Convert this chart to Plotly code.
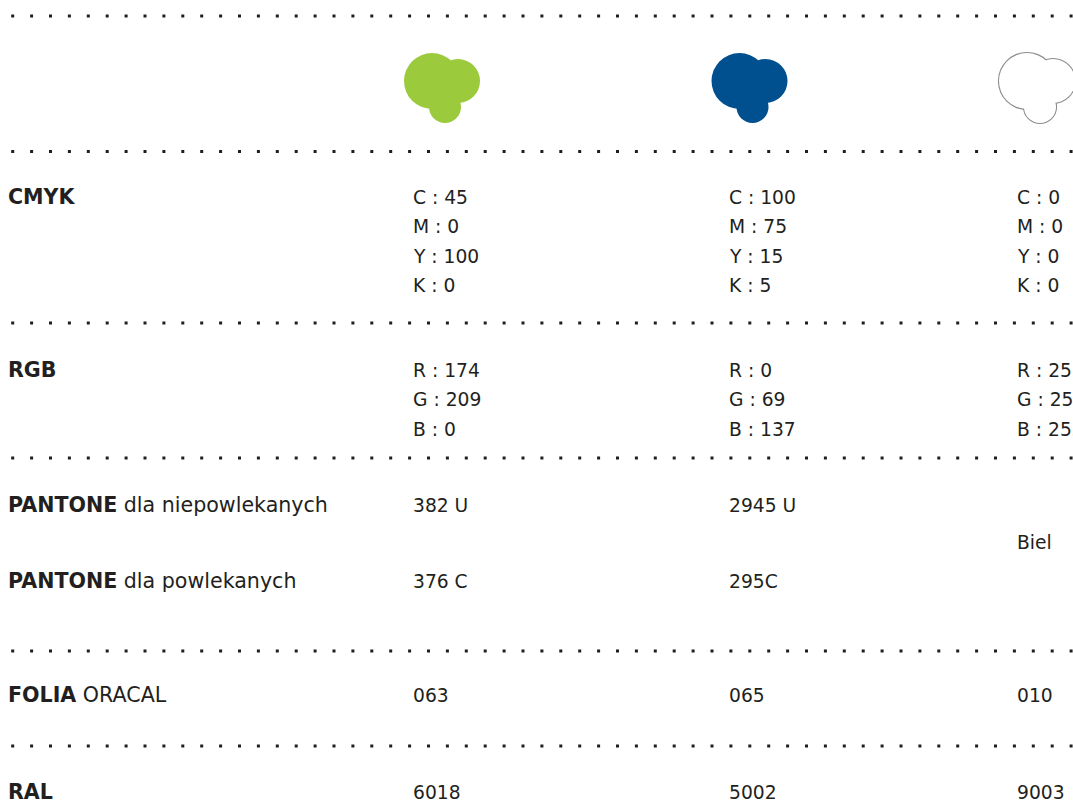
import plotly.graph_objects as go

# ---------------- data ----------------
row_labels = ["<b>CMYK</b>", "<b>RGB</b>", "<b>PANTONE</b> dla niepowlekanych",
              "<b>PANTONE</b> dla powlekanych", "<b>FOLIA</b> ORACAL", "<b>RAL</b>"]
swatch_colors = ["#9bca3c", "#00508f", "#ffffff"]
swatch_outline = [None, None, "#8c8c8c"]

cmyk_keys = ["C", "M", "Y", "K"]
cmyk_green = [45, 0, 100, 0]
cmyk_blue = [100, 75, 15, 5]
cmyk_white = [0, 0, 0, 0]

rgb_keys = ["R", "G", "B"]
rgb_green = [174, 209, 0]
rgb_blue = [0, 69, 137]
rgb_white = [255, 255, 255]

pantone_u = ["382 U", "2945 U", None]
pantone_c = ["376 C", "295C", None]
pantone_white = "Biel"
oracal = ["063", "065", "010"]
ral = ["6018", "5002", "9003"]

# ---------------- layout geometry ----------------
W, H = 1073, 801
FONT = "DejaVu Sans"
INK = "#231f20"
label_x = 7
value_x = [412, 728, 1016]
blob_x = [404, 711.5, 999]
blob_circles = [(28, 81, 28), (54, 81, 22), (41, 107, 16)]  # (dx, cy, r)
sep_y = [16, 151.5, 323, 458, 651, 746]
label_y = [197, 370, 505, 581, 695, 792]
line_gap = 29.5

fig = go.Figure()
shapes = []
annotations = []

# dotted separators
for y in sep_y:
    shapes.append(dict(type="line", xref="x", yref="y", x0=11.2, x1=W + 5, y0=y, y1=y,
                       line=dict(color="#1e1e1e", width=3, dash="3px,15.9px")))

# blobs
for bx, fill, outl in zip(blob_x, swatch_colors, swatch_outline):
    if outl:
        for dx, cy, r in blob_circles:
            rr = r + 1.1
            shapes.append(dict(type="circle", xref="x", yref="y", x0=bx + dx - rr, x1=bx + dx + rr,
                               y0=cy - rr, y1=cy + rr, fillcolor=outl, line=dict(width=0)))
    for dx, cy, r in blob_circles:
        shapes.append(dict(type="circle", xref="x", yref="y", x0=bx + dx - r, x1=bx + dx + r,
                           y0=cy - r, y1=cy + r, fillcolor=fill, line=dict(width=0)))


def txt(x, y, s, size=19):
    annotations.append(dict(x=x, y=y, xref="x", yref="y", text=s, showarrow=False,
                            xanchor="left", yanchor="middle", borderpad=0,
                            font=dict(family=FONT, size=size, color=INK)))


for lab, y in zip(row_labels, label_y):
    txt(label_x, y, lab, size=20.6)

VS = 18.7
# CMYK
for vx, vals in zip(value_x, [cmyk_green, cmyk_blue, cmyk_white]):
    for i, (k, v) in enumerate(zip(cmyk_keys, vals)):
        txt(vx, label_y[0] + i * line_gap, f"{k} : {v}", size=VS)
# RGB
for vx, vals in zip(value_x, [rgb_green, rgb_blue, rgb_white]):
    for i, (k, v) in enumerate(zip(rgb_keys, vals)):
        txt(vx, label_y[1] + i * line_gap, f"{k} : {v}", size=VS)
# Pantone
for vx, u, c in zip(value_x, pantone_u, pantone_c):
    if u:
        txt(vx, label_y[2], u, size=VS)
    if c:
        txt(vx, label_y[3], c, size=VS)
txt(value_x[2], (label_y[2] + label_y[3]) / 2 - 1, pantone_white, size=VS)
# Oracal, RAL
for vx, o, r in zip(value_x, oracal, ral):
    txt(vx, label_y[4], o, size=VS)
    txt(vx, label_y[5], r, size=VS)

fig.update_layout(
    width=W, height=H, margin=dict(l=0, r=0, t=0, b=0),
    paper_bgcolor="white", plot_bgcolor="white",
    xaxis=dict(range=[0, W], visible=False, fixedrange=True),
    yaxis=dict(range=[H, 0], visible=False, fixedrange=True),
    shapes=shapes, annotations=annotations, showlegend=False,
)

fig.write_html("out.html", config={"displayModeBar": False},
               post_script="document.body.style.margin='0';document.body.style.overflow='hidden';")
